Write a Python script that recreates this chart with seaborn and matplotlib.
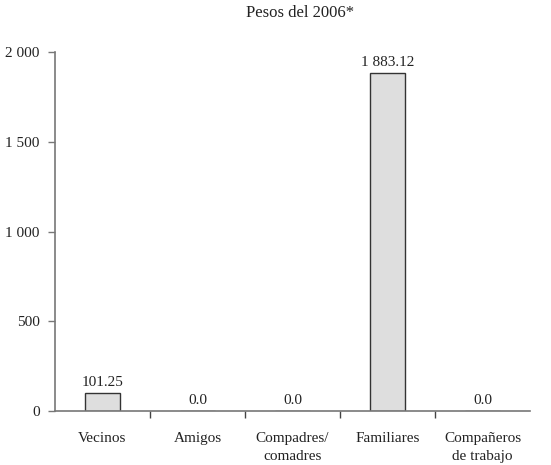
import matplotlib
matplotlib.use("Agg")
import matplotlib.pyplot as plt
import seaborn as sns
import pandas as pd

categories = ["Vecinos", "Amigos", "Compadres/\ncomadres", "Familiares", "Compañeros\nde trabajo"]
values = [101.25, 0.0, 0.0, 1883.12, 0.0]
value_labels = ["101.25", "0.0", "0.0", "1 883.12", "0.0"]
y_ticks = [0, 500, 1000, 1500, 2000]
y_tick_labels = ["0", "500", "1 000", "1 500", "2 000"]
title = "Pesos del 2006*"

sns.set_theme(style="white")
plt.rcParams["font.family"] = ["Liberation Serif", "DejaVu Serif"]

df = pd.DataFrame({"categoria": categories, "pesos": values})

fig = plt.figure(figsize=(5.51, 4.65), dpi=100)
ax = fig.add_axes([0.0998, 0.116, 0.862, 0.772])

sns.barplot(data=df, x="categoria", y="pesos", ax=ax, width=0.36,
            color="#dedede", edgecolor="#333333", linewidth=1.0, saturation=1)

for i, (v, lab) in enumerate(zip(values, value_labels)):
    ax.text(i, v + 20, lab, ha="center", va="bottom", fontsize=11, color="#222222")

ax.set_xlim(-0.5, 4.5)
ax.set_ylim(0, 2000)
ax.set_yticks(y_ticks)
ax.set_yticklabels(y_tick_labels, fontsize=11, color="#222222")
ax.set_xticks(range(len(categories)))
ax.set_xticklabels(categories, fontsize=11, color="#222222", linespacing=1.55)
ax.tick_params(axis="x", which="major", length=0, pad=15)
ax.set_xticks([0.5, 1.5, 2.5, 3.5], minor=True)
ax.tick_params(axis="x", which="minor", length=5, width=1, color="#444444", direction="out", bottom=True)
ax.tick_params(axis="y", length=5, width=1, color="#777777", direction="out", left=True, pad=6)

ax.set_xlabel("")
ax.set_ylabel("")
for side in ["top", "right"]:
    ax.spines[side].set_visible(False)
for side in ["left", "bottom"]:
    ax.spines[side].set_color("#777777")
    ax.spines[side].set_linewidth(1.2)

fig.text(0.545, 0.972, title, ha="center", va="center", fontsize=12, color="#222222")

fig.savefig("out.png", dpi=100, facecolor="white")
